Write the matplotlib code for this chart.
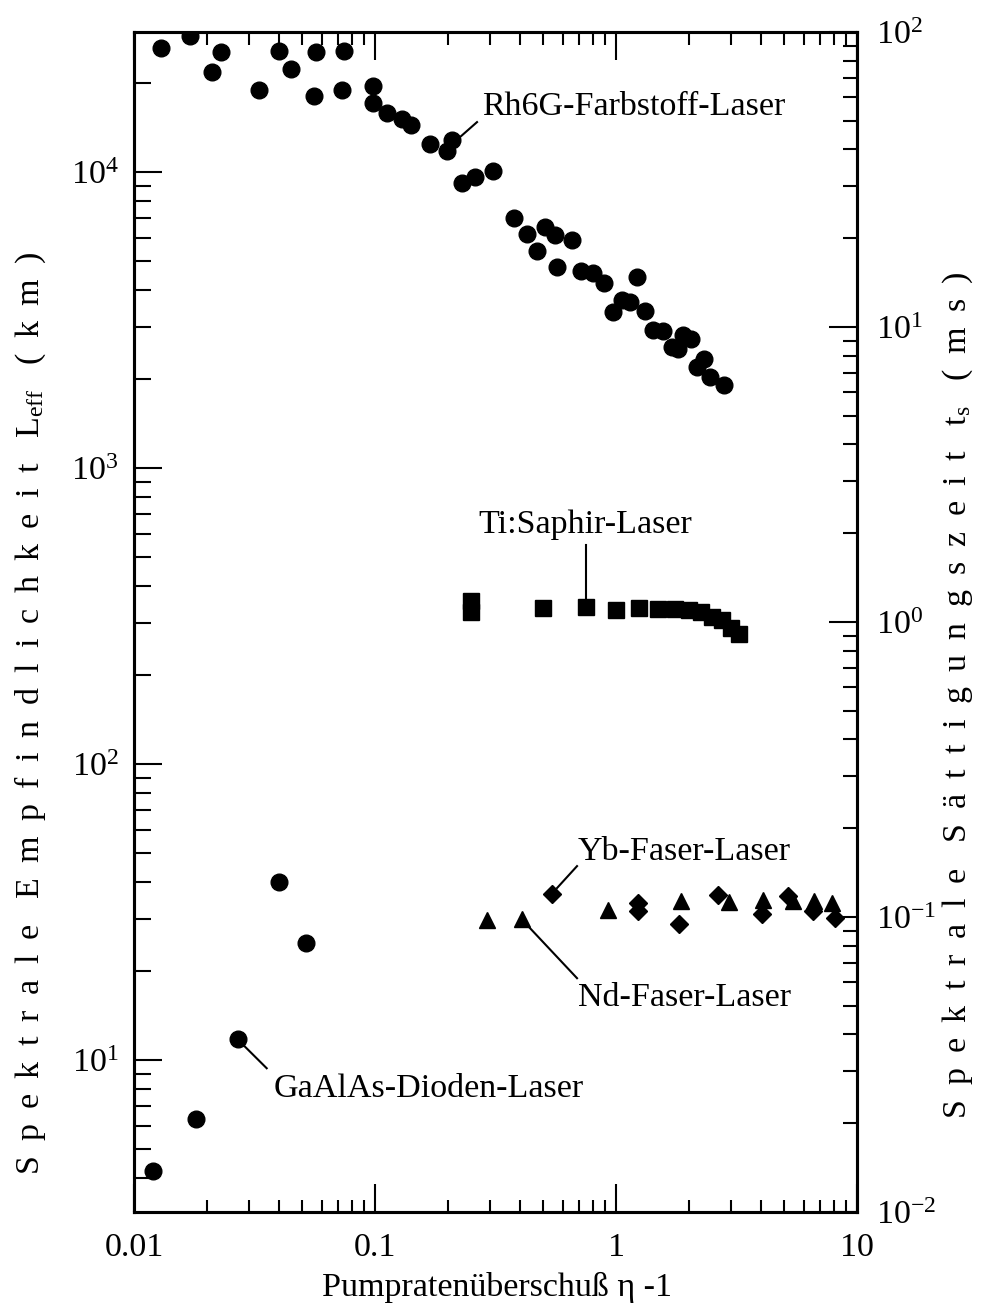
import numpy as np
import matplotlib
matplotlib.use('Agg')
import matplotlib.pyplot as plt
from matplotlib.ticker import FuncFormatter, LogLocator, NullFormatter

plt.rcParams['font.family'] = ['Liberation Serif', 'DejaVu Serif']
plt.rcParams['mathtext.fontset'] = 'custom'
plt.rcParams['mathtext.rm'] = 'Liberation Serif'
plt.rcParams['mathtext.it'] = 'Liberation Serif:italic'

# Rh6G-Farbstoff-Laser (circles)
rh6g_x = [0.0130, 0.0170, 0.0211, 0.0230, 0.0330, 0.0401, 0.0448, 0.0560, 0.0569,
          0.0727, 0.0746, 0.0984, 0.0978, 0.1118, 0.129, 0.141, 0.169, 0.198, 0.209,
          0.229, 0.260, 0.310, 0.378, 0.429, 0.468, 0.508, 0.558, 0.568, 0.655,
          0.716, 0.805, 0.892, 0.975, 1.056, 1.143, 1.226, 1.319, 1.428, 1.572,
          1.703, 1.814, 1.892, 2.048, 2.162, 2.318, 2.455, 2.806]
rh6g_y = [26200, 28800, 21800, 25500, 19000, 25700, 22300, 18100, 25500,
          18900, 25600, 19600, 17150, 15800, 15100, 14400, 12400, 11800, 12800,
          9200, 9600, 10100, 7020, 6160, 5430, 6540, 6120, 4790, 5890,
          4640, 4570, 4210, 3370, 3710, 3650, 4410, 3390, 2920, 2910,
          2570, 2520, 2810, 2720, 2200, 2330, 2030, 1907]

# Ti:Saphir-Laser (squares)
ti_x = [0.25, 0.25, 0.5, 0.75, 1.0, 1.25, 1.5, 1.75, 2.0, 2.25, 2.5, 2.75, 3.0, 3.25]
ti_y = [355, 326, 336, 340, 331, 337, 333, 333, 331, 327, 315, 307, 289, 274]

# Nd-Faser-Laser (triangles)
nd_x = [0.291, 0.409, 0.929, 1.861, 2.953, 4.062, 5.425, 6.63, 7.85]
nd_y = [29.7, 29.9, 32.1, 34.5, 34.2, 34.7, 34.4, 34.5, 34.0]

# Yb-Faser-Laser (diamonds)
yb_x = [0.541, 1.230, 1.230, 1.831, 2.658, 4.024, 5.187, 6.55, 8.1]
yb_y = [36.3, 33.8, 31.9, 28.7, 36.1, 31.1, 35.8, 31.9, 30.1]

# GaAlAs-Dioden-Laser (circles)
gaalas_x = [0.0120, 0.0181, 0.0271, 0.0400, 0.0517]
gaalas_y = [4.22, 6.32, 11.75, 39.9, 24.8]

FS = 24.5

fig = plt.figure(figsize=(9.86, 13.08), dpi=100)
ax = fig.add_axes([0.1359, 0.0734, 0.7333, 0.9021])
ax.set_xscale('log')
ax.set_yscale('log')
ax.set_xlim(0.01, 10)
ax.set_ylim(3.066, 29720)

ax.plot(rh6g_x, rh6g_y, 'o', color='black', ms=12, ls='none')
ax.plot(ti_x, ti_y, 's', color='black', ms=11, ls='none')
ax.plot(nd_x, nd_y, '^', color='black', ms=12, ls='none')
ax.plot(yb_x, yb_y, 'D', color='black', ms=9, ls='none')
ax.plot(gaalas_x, gaalas_y, 'o', color='black', ms=12, ls='none')

# labels with leader lines
ax.plot([0.2253, 0.2650], [13130, 14750], color='black', lw=1.5)
ax.text(0.2772, 15580, 'Rh6G-Farbstoff-Laser', fontsize=FS, va='baseline', ha='left')
ax.plot([0.75, 0.75], [365, 550], color='black', lw=1.5)
ax.text(0.2683, 602, 'Ti:Saphir-Laser', fontsize=FS, va='baseline', ha='left')
ax.plot([0.569, 0.689], [38.1, 45.2], color='black', lw=1.5)
ax.text(0.6957, 47.4, 'Yb-Faser-Laser', fontsize=FS, va='baseline', ha='left')
ax.plot([0.4272, 0.689], [28.6, 18.9], color='black', lw=1.5)
ax.text(0.6957, 15.22, 'Nd-Faser-Laser', fontsize=FS, va='baseline', ha='left')
ax.plot([0.02841, 0.03553], [11.24, 9.38], color='black', lw=1.5)
ax.text(0.03784, 7.5, 'GaAlAs-Dioden-Laser', fontsize=FS, va='baseline', ha='left')

# right axis: saturation time
ax2 = ax.twinx()
ax2.set_yscale('log')
ax2.set_ylim(1e-2, 1e2)

pow_fmt = FuncFormatter(lambda v, p: r'$\mathregular{10^{%d}}$' % int(round(np.log10(v))))
for a in (ax, ax2):
    a.yaxis.set_major_locator(LogLocator(base=10, numticks=20))
    a.yaxis.set_minor_locator(LogLocator(base=10, subs=range(2, 10), numticks=20))
    a.yaxis.set_major_formatter(pow_fmt)
    a.yaxis.set_minor_formatter(NullFormatter())
    for s in a.spines.values():
        s.set_linewidth(2.2)

ax.xaxis.set_major_formatter(FuncFormatter(lambda v, p: '%g' % v))
ax.xaxis.set_minor_formatter(NullFormatter())

ax.tick_params(which='both', direction='in', top=True, right=False, width=1.5, labelsize=FS)
ax.tick_params(axis='x', which='major', length=20, pad=15)
ax.tick_params(axis='x', which='minor', length=9)
ax.tick_params(axis='y', which='major', length=20, pad=11)
ax.tick_params(axis='y', which='minor', length=12)
ax2.tick_params(which='both', direction='in', width=1.5, labelsize=FS)
ax2.tick_params(axis='y', which='major', length=20, pad=14)
ax2.tick_params(axis='y', which='minor', length=10)

sp = ' \u2009'
left_label = sp.join('Spektrale') + '   ' + sp.join('Empfindlichkeit') + '   L$_{\\mathregular{eff}}$   ' + sp.join('(km)')
right_label = sp.join('Spektrale') + '   ' + sp.join('Sättigungszeit') + '   t$_{\\mathregular{s}}$   ' + sp.join('(ms)')
fig.text(30 / 986, 1 - 713 / 1308, left_label, rotation=90, fontsize=FS, ha='center', va='center')
fig.text(958 / 986, 1 - 695 / 1308, right_label, rotation=90, fontsize=FS, ha='center', va='center')
fig.text(497 / 986, 1 - 1287 / 1308, 'Pumpratenüberschuß η -1', fontsize=FS, ha='center', va='center')

fig.savefig('out.png', dpi=100)
